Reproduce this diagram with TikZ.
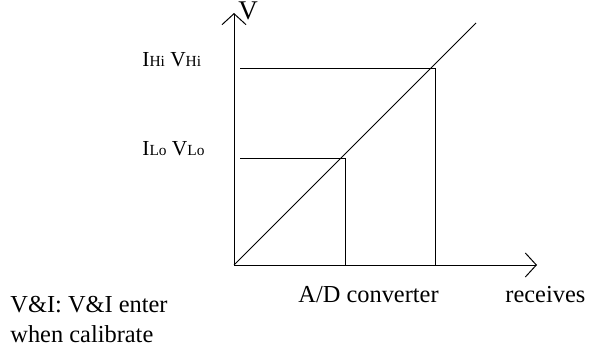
\documentclass[tikz,border=0pt]{standalone}
\usepackage{fontspec}
\setmainfont{Liberation Serif}
\usetikzlibrary{arrows.meta,positioning}

\newcommand{\subtxt}[1]{{\fontsize{7.7}{9}\selectfont #1}}

\begin{document}
\begin{tikzpicture}[
    x=0.5pt, y=0.5pt,
    >={Straight Barb[length=5.5pt,width=12pt]},
    axis/.style={
        ->,
        line width=0.5pt
    },
    guide/.style={
        line width=0.5pt
    },
    lbl/.style={
        anchor=base west,
        inner sep=0pt,
        font=\fontsize{12.2}{15}\selectfont,
        align=left
    },
    ptlbl/.style={
        lbl,
        font=\fontsize{10.7}{13}\selectfont
    }
]
\useasboundingbox (0,0) rectangle (589,349);

% ---- Axes ----
\coordinate (orig) at (234,84);
\coordinate (ytip) at (234,336);
\coordinate (xtip) at (537,84);
\draw[axis] (orig) -- (ytip);
\draw[axis] (orig) -- (xtip);

% ---- Calibration line ----
\coordinate (diagend) at (476,326);
\draw[guide] (orig) -- (diagend);

% ---- High and low points ----
\coordinate (hileft)  at (240,281);
\coordinate (hicorner)at (435,281);
\coordinate (hifoot)  at (435,84);
\coordinate (loleft)  at (240,191);
\coordinate (locorner)at (345,191);
\coordinate (lofoot)  at (345,84);
\draw[guide] (hileft) -- (hicorner) -- (hifoot);
\draw[guide] (loleft) -- (locorner) -- (lofoot);

% ---- Labels ----
\node[lbl, font=\fontsize{13.5}{16}\selectfont] (vlabel) at (238,329) {V};
\node[ptlbl] (hilabel)  at (142,283) {I\subtxt{Hi} V\subtxt{Hi}};
\node[ptlbl] (lolabel)  at (142,194) {I\subtxt{Lo} V\subtxt{Lo}};
\node[lbl] (adlabel)  at (298,47)  {A/D converter};
\node[lbl] (rcvlabel) at (505,47)  {receives};
\node[lbl] (note1)    at (10,37)   {V\&I: V\&I enter};
\node[lbl] (note2)    at (10,7)    {when calibrate};

\end{tikzpicture}
\end{document}
